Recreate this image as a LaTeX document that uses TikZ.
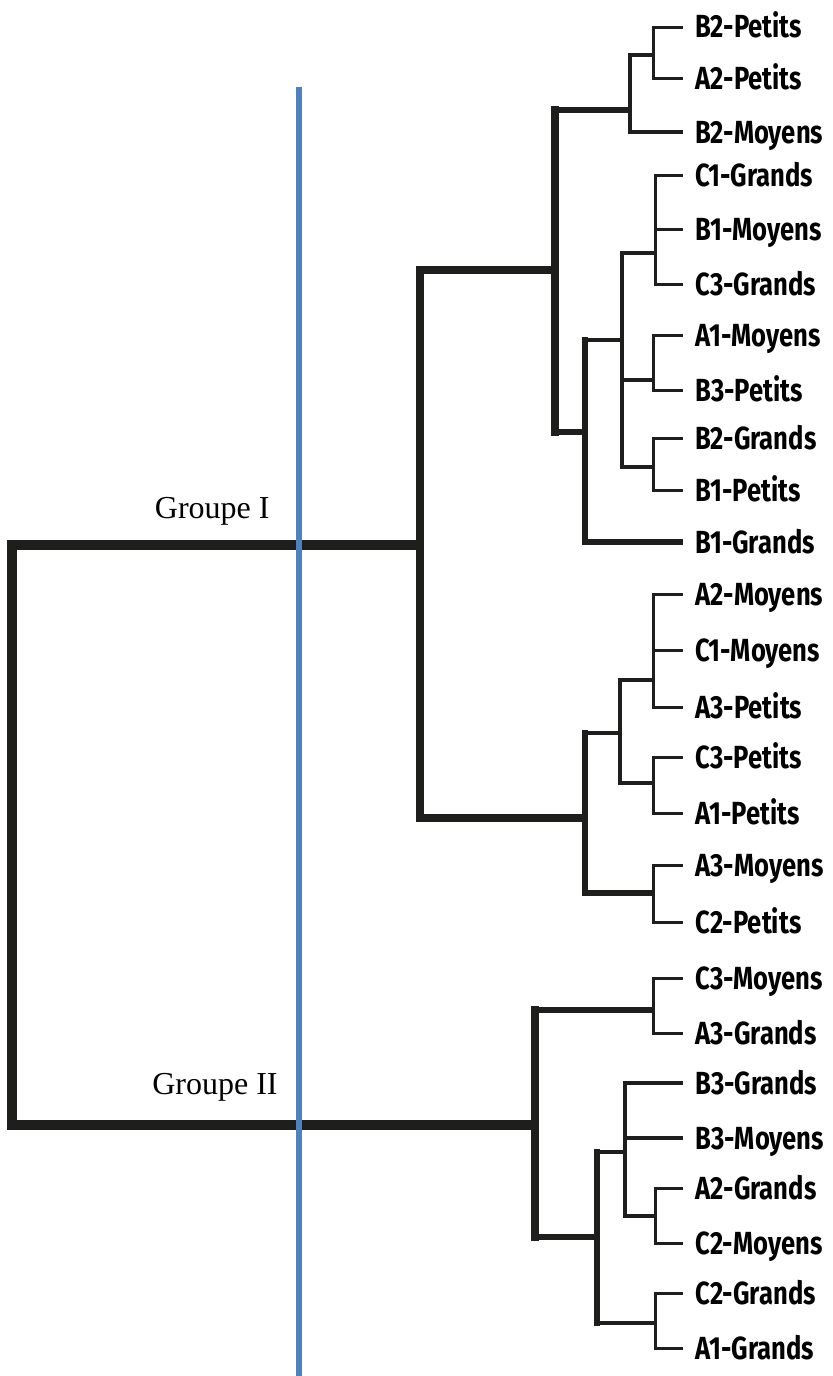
\documentclass[tikz,border=0pt]{standalone}
\usepackage{fontspec}
\setmainfont{Liberation Serif}
\newfontfamily\leaffont{Fira Sans}[FakeStretch=0.8]
\usetikzlibrary{positioning, calc}
\definecolor{treeblack}{RGB}{30,30,28}
\definecolor{cutblue}{RGB}{79,129,189}

\begin{document}
\begin{tikzpicture}[
    x=0.5pt, y=-0.5pt,
    leaf/.style={anchor=west, inner xsep=6pt, inner ysep=0pt, text height=11pt, text depth=0pt, font=\leaffont\bfseries\fontsize{16}{18}\selectfont},
    grouplabel/.style={anchor=base east, inner sep=0pt, font=\fontsize{16}{18}\selectfont},
    trunk/.style={draw=treeblack, line width=5pt},
    limb/.style={draw=treeblack, line width=4pt},
    branch/.style={draw=treeblack, line width=3pt},
    twig/.style={draw=treeblack, line width=2.2pt},
    leafline/.style={draw=treeblack, line width=1.5pt},
    spine/.style={line cap=rect},
    cutline/.style={draw=cutblue, line width=3pt}
]
\useasboundingbox (0,0) rectangle (832,1376);

% Leaves
\node (b2petits) [leaf] at (683,27) {B2-Petits};
\node (a2petits) [leaf] at (683,78) {A2-Petits};
\node (b2moyens) [leaf] at (683,132) {B2-Moyens};
\node (c1grands) [leaf] at (683,175) {C1-Grands};
\node (b1moyens) [leaf] at (683,229) {B1-Moyens};
\node (c3grands) [leaf] at (683,284) {C3-Grands};
\node (a1moyens) [leaf] at (683,335) {A1-Moyens};
\node (b3petits) [leaf] at (683,390) {B3-Petits};
\node (b2grands) [leaf] at (683,438) {B2-Grands};
\node (b1petits) [leaf] at (683,490) {B1-Petits};
\node (b1grands) [leaf] at (683,542) {B1-Grands};
\node (a2moyens) [leaf] at (683,594) {A2-Moyens};
\node (c1moyens) [leaf] at (683,650) {C1-Moyens};
\node (a3petits) [leaf] at (683,707) {A3-Petits};
\node (c3petits) [leaf] at (683,757) {C3-Petits};
\node (a1petits) [leaf] at (683,813) {A1-Petits};
\node (a3moyens) [leaf] at (683,865) {A3-Moyens};
\node (c2petits) [leaf] at (683,922) {C2-Petits};
\node (c3moyens) [leaf] at (683,978) {C3-Moyens};
\node (a3grands) [leaf] at (683,1033) {A3-Grands};
\node (b3grands) [leaf] at (683,1083) {B3-Grands};
\node (b3moyens) [leaf] at (683,1138) {B3-Moyens};
\node (a2grands) [leaf] at (683,1188) {A2-Grands};
\node (c2moyens) [leaf] at (683,1243) {C2-Moyens};
\node (c2grands) [leaf] at (683,1293) {C2-Grands};
\node (a1grands) [leaf] at (683,1348) {A1-Grands};

% Joins
\coordinate (j1) at (653,55);
\coordinate (j2) at (630,110);
\coordinate (j3) at (655,253);
\coordinate (j4) at (653,380);
\coordinate (j5) at (653,467);
\coordinate (j6) at (622,340);
\coordinate (j7) at (585,432);
\coordinate (j8) at (555,270);
\coordinate (j9) at (653,680);
\coordinate (j10) at (653,783);
\coordinate (j11) at (620,733);
\coordinate (j12) at (653,893);
\coordinate (j13) at (585,818);
\coordinate (grpone) at (420,545);
\coordinate (j14) at (653,1010);
\coordinate (j15) at (655,1216);
\coordinate (j16) at (625,1152);
\coordinate (j17) at (655,1323);
\coordinate (j18) at (597,1237);
\coordinate (grptwo) at (535,1125);
\coordinate (root) at (12,835);
\coordinate (cuttop) at (299,87);
\coordinate (cutbottom) at (299,1376);

% Group I
\draw [leafline, spine] (j1 |- b2petits) -- (j1 |- a2petits);
\draw [leafline] (j1 |- b2petits) -- (b2petits);
\draw [leafline] (j1 |- a2petits) -- (a2petits);
\draw [twig, spine] (j2 |- j1) -- (j2 |- b2moyens);
\draw [twig] (j2 |- j1) -- (j1);
\draw [twig] (j2 |- b2moyens) -- (b2moyens);
\draw [leafline, spine] (j3 |- c1grands) -- (j3 |- c3grands);
\draw [leafline] (j3 |- c1grands) -- (c1grands);
\draw [leafline] (j3 |- b1moyens) -- (b1moyens);
\draw [leafline] (j3 |- c3grands) -- (c3grands);
\draw [leafline, spine] (j4 |- a1moyens) -- (j4 |- b3petits);
\draw [leafline] (j4 |- a1moyens) -- (a1moyens);
\draw [leafline] (j4 |- b3petits) -- (b3petits);
\draw [leafline, spine] (j5 |- b2grands) -- (j5 |- b1petits);
\draw [leafline] (j5 |- b2grands) -- (b2grands);
\draw [leafline] (j5 |- b1petits) -- (b1petits);
\draw [twig, spine] (j6 |- j3) -- (j6 |- j5);
\draw [twig] (j6 |- j3) -- (j3);
\draw [twig] (j6 |- j4) -- (j4);
\draw [twig] (j6 |- j5) -- (j5);
\draw [branch, spine] (j7 |- j6) -- (j7 |- b1grands);
\draw [twig] (j7 |- j6) -- (j6);
\draw [branch] (j7 |- b1grands) -- (b1grands);
\draw [limb, spine] (j8 |- j2) -- (j8 |- j7);
\draw [branch] (j8 |- j2) -- (j2);
\draw [branch] (j8 |- j7) -- (j7);
\draw [leafline, spine] (j9 |- a2moyens) -- (j9 |- a3petits);
\draw [leafline] (j9 |- a2moyens) -- (a2moyens);
\draw [leafline] (j9 |- c1moyens) -- (c1moyens);
\draw [leafline] (j9 |- a3petits) -- (a3petits);
\draw [leafline, spine] (j10 |- c3petits) -- (j10 |- a1petits);
\draw [leafline] (j10 |- c3petits) -- (c3petits);
\draw [leafline] (j10 |- a1petits) -- (a1petits);
\draw [twig, spine] (j11 |- j9) -- (j11 |- j10);
\draw [twig] (j11 |- j9) -- (j9);
\draw [twig] (j11 |- j10) -- (j10);
\draw [leafline, spine] (j12 |- a3moyens) -- (j12 |- c2petits);
\draw [leafline] (j12 |- a3moyens) -- (a3moyens);
\draw [leafline] (j12 |- c2petits) -- (c2petits);
\draw [branch, spine] (j13 |- j11) -- (j13 |- j12);
\draw [twig] (j13 |- j11) -- (j11);
\draw [branch] (j13 |- j12) -- (j12);
\draw [limb, spine] (grpone |- j8) -- (grpone |- j13);
\draw [limb] (grpone |- j8) -- (j8);
\draw [limb] (grpone |- j13) -- (j13);

% Group II
\draw [leafline, spine] (j14 |- c3moyens) -- (j14 |- a3grands);
\draw [leafline] (j14 |- c3moyens) -- (c3moyens);
\draw [leafline] (j14 |- a3grands) -- (a3grands);
\draw [leafline, spine] (j15 |- a2grands) -- (j15 |- c2moyens);
\draw [leafline] (j15 |- a2grands) -- (a2grands);
\draw [leafline] (j15 |- c2moyens) -- (c2moyens);
\draw [twig, spine] (j16 |- b3grands) -- (j16 |- j15);
\draw [twig] (j16 |- b3grands) -- (b3grands);
\draw [twig] (j16 |- b3moyens) -- (b3moyens);
\draw [twig] (j16 |- j15) -- (j15);
\draw [leafline, spine] (j17 |- c2grands) -- (j17 |- a1grands);
\draw [leafline] (j17 |- c2grands) -- (c2grands);
\draw [leafline] (j17 |- a1grands) -- (a1grands);
\draw [branch, spine] (j18 |- j16) -- (j18 |- j17);
\draw [twig] (j18 |- j16) -- (j16);
\draw [twig] (j18 |- j17) -- (j17);
\draw [limb, spine] (grptwo |- j14) -- (grptwo |- j18);
\draw [branch] (grptwo |- j14) -- (j14);
\draw [branch] (grptwo |- j18) -- (j18);

% Root
\draw [trunk, spine] (root |- grpone) -- (root |- grptwo);
\draw [trunk] (root |- grpone) -- (grpone);
\draw [trunk] (root |- grptwo) -- (grptwo);

% Cut
\draw [cutline] (cuttop) -- (cutbottom);
\node (labelone) [grouplabel] at (270,518) {Groupe I};
\node (labeltwo) [grouplabel] at (278,1094) {Groupe II};

\end{tikzpicture}
\end{document}
